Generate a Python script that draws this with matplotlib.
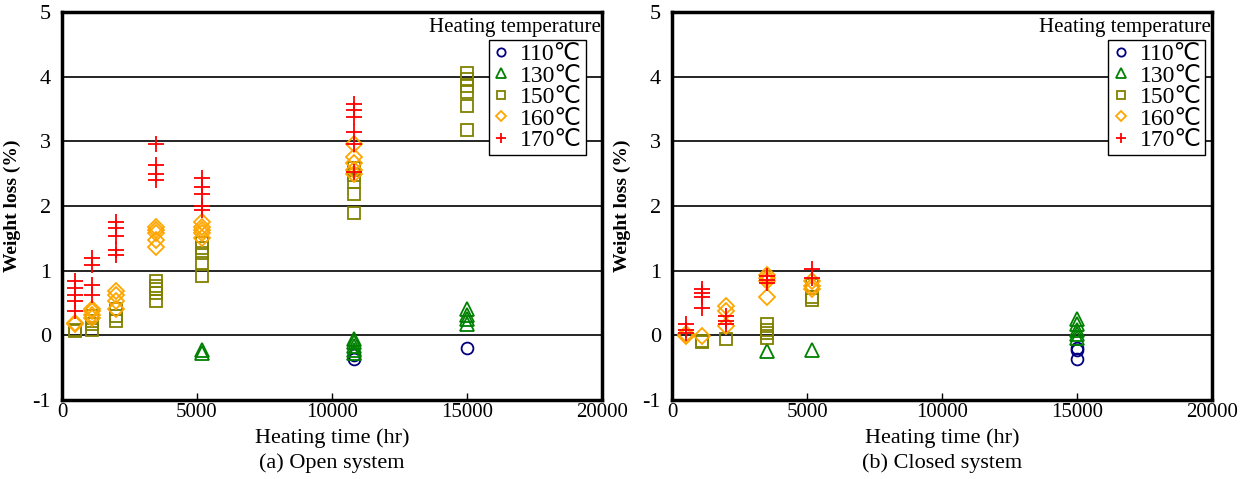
import matplotlib
matplotlib.use("Agg")
import matplotlib.pyplot as plt

plt.rcParams['font.family'] = ['Liberation Serif', 'DejaVu Sans']
plt.rcParams['axes.unicode_minus'] = False

temps = ["110℃", "130℃", "150℃", "160℃", "170℃"]
colors = ["#000080", "#008000", "#808000", "#FFA500", "#FF0000"]
markers = ["o", "^", "s", "D", "+"]

# Open system: (time, weight loss) per temperature
open_110_t = [10800, 10800, 15000]
open_110_w = [-0.37, -0.30, -0.19]
open_130_t = [5200, 5200, 10800, 10800, 10800, 10800, 10800, 15000, 15000, 15000, 15000]
open_130_w = [-0.22, -0.27, -0.06, -0.11, -0.16, -0.22, -0.27, 0.40, 0.32, 0.25, 0.17]
open_150_t = [500, 500, 1100, 1100, 1100, 1100, 2000, 2000, 2000,
              3500, 3500, 3500, 3500, 3500, 5200, 5200, 5200, 5200, 5200,
              10800, 10800, 10800, 10800, 10800, 15000, 15000, 15000, 15000, 15000, 15000]
open_150_w = [0.07, 0.09, 0.30, 0.22, 0.17, 0.09, 0.40, 0.30, 0.22,
              0.84, 0.76, 0.71, 0.66, 0.53, 1.43, 1.35, 1.27, 1.12, 0.91,
              2.58, 2.48, 2.37, 2.19, 1.89, 4.06, 3.97, 3.86, 3.76, 3.55, 3.18]
open_160_t = [500, 500, 1100, 1100, 1100, 1100, 2000, 2000, 2000, 2000,
              3500, 3500, 3500, 3500, 3500, 5200, 5200, 5200, 5200, 5200,
              10800, 10800, 10800, 10800, 10800]
open_160_w = [0.17, 0.19, 0.40, 0.37, 0.32, 0.27, 0.68, 0.63, 0.53, 0.40,
              1.68, 1.63, 1.58, 1.48, 1.37, 1.76, 1.68, 1.63, 1.58, 1.50,
              2.96, 2.76, 2.66, 2.55, 2.50]
open_170_t = [500, 500, 500, 500, 500, 1100, 1100, 1100, 1100,
              2000, 2000, 2000, 2000, 2000, 3500, 3500, 3500, 3500,
              5200, 5200, 5200, 5200, 5200, 10800, 10800, 10800, 10800, 10800, 10800]
open_170_w = [0.84, 0.73, 0.63, 0.53, 0.37, 1.19, 1.09, 0.78, 0.63,
              1.76, 1.66, 1.53, 1.32, 1.25, 2.96, 2.63, 2.50, 2.40,
              2.43, 2.30, 2.19, 2.00, 1.94, 3.58, 3.48, 3.37, 3.14, 2.96, 2.53]

# Closed system
closed_110_t = [15000, 15000, 15000]
closed_110_w = [-0.19, -0.22, -0.37]
closed_130_t = [3500, 5200, 15000, 15000, 15000, 15000, 15000]
closed_130_w = [-0.24, -0.22, 0.25, 0.17, 0.09, 0.02, -0.04]
closed_150_t = [1100, 1100, 2000, 3500, 3500, 3500, 3500, 5200, 5200, 5200]
closed_150_w = [-0.09, -0.11, -0.06, 0.17, 0.09, 0.04, -0.04, 0.78, 0.60, 0.55]
closed_160_t = [500, 500, 1100, 2000, 2000, 2000, 3500, 3500, 3500, 3500, 5200, 5200, 5200]
closed_160_w = [0.02, -0.01, -0.01, 0.45, 0.37, 0.14, 0.94, 0.89, 0.84, 0.60, 0.84, 0.76, 0.71]
closed_170_t = [500, 500, 500, 1100, 1100, 1100, 1100, 2000, 2000, 2000,
                3500, 3500, 3500, 5200, 5200]
closed_170_w = [0.17, 0.09, 0.04, 0.71, 0.66, 0.60, 0.43, 0.30, 0.22, 0.17,
                0.91, 0.86, 0.81, 1.02, 0.89]

open_data = [(open_110_t, open_110_w), (open_130_t, open_130_w), (open_150_t, open_150_w),
             (open_160_t, open_160_w), (open_170_t, open_170_w)]
closed_data = [(closed_110_t, closed_110_w), (closed_130_t, closed_130_w),
               (closed_150_t, closed_150_w), (closed_160_t, closed_160_w),
               (closed_170_t, closed_170_w)]

x_ticks = [0, 5000, 10000, 15000, 20000]
y_ticks = [-1, 0, 1, 2, 3, 4, 5]
captions = ["(a) Open system", "(b) Closed system"]

W, H = 1257, 479
fig = plt.figure(figsize=(W / 100, H / 100), dpi=100)
ax_rects = [(62, 12, 540, 388), (672, 12, 540, 388)]
legend_right = [0.970, 0.987]
marker_sizes = {"o": 8.5, "^": 10, "s": 8.5, "D": 8, "+": 11}

for rect, data, cap, lr in zip(ax_rects, [open_data, closed_data], captions, legend_right):
    l, t, w, h = rect
    ax = fig.add_axes([l / W, (H - t - h) / H, w / W, h / H])
    for (tt, ww), c, m, lab in zip(data, colors, markers, temps):
        ax.plot(tt, ww, linestyle="none", marker=m, markersize=marker_sizes[m],
                markerfacecolor="none", markeredgecolor=c, markeredgewidth=1.3,
                label=lab)
    ax.set_xlim(0, 20000)
    ax.set_ylim(-1, 5)
    for yv in [0, 1, 2, 3, 4]:
        ax.axhline(yv, color="black", linewidth=1.2, zorder=0)
    ax.set_xticks(x_ticks)
    ax.set_yticks(y_ticks)
    ax.tick_params(axis="x", direction="in", length=5, width=1, labelsize=15, pad=2)
    ax.tick_params(axis="y", direction="in", length=0, labelsize=16, pad=8)
    for s in ax.spines.values():
        s.set_linewidth(2.5)
    ax.set_ylabel("Weight loss (%)", fontsize=14, fontweight="bold", labelpad=8)
    ax.text(0.5, -0.098, "Heating time (hr)", transform=ax.transAxes, ha="center",
            va="center", fontsize=16)
    ax.text(0.5, -0.162, cap, transform=ax.transAxes, ha="center", va="center", fontsize=16)
    ax.text(0.997, 0.985, "Heating temperature", transform=ax.transAxes, ha="right",
            va="top", fontsize=15)
    leg = ax.legend(loc="upper right", bbox_to_anchor=(lr, 0.928), fontsize=17,
                    frameon=True, fancybox=False, edgecolor="black", framealpha=1,
                    handlelength=0.8, handletextpad=0.4, labelspacing=0.0,
                    borderpad=0.15, borderaxespad=0, markerscale=0.7)
    leg.get_frame().set_linewidth(1.0)

fig.savefig("out.png", dpi=100)
